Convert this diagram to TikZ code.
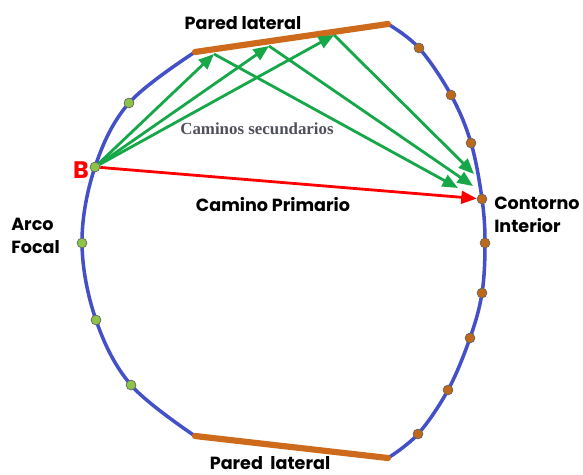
\documentclass[tikz,border=0pt]{standalone}
\usepackage{fontspec}
\setmainfont{Poppins}
\newfontfamily\serifb{Liberation Serif}
\usetikzlibrary{arrows.meta,positioning}

\definecolor{arcblue}{RGB}{68,80,200}
\definecolor{wallorange}{RGB}{206,106,28}
\definecolor{pathgreen}{RGB}{22,168,72}
\definecolor{dotgreen}{RGB}{140,196,72}
\definecolor{dotorange}{RGB}{190,104,26}
\definecolor{labelgray}{RGB}{80,80,92}

\begin{document}
\begin{tikzpicture}[x=0.025cm, y=-0.025cm]
  \tikzstyle{focaldot}=[circle, draw=black!60, fill=dotgreen, line width=0.5pt, minimum size=7pt, inner sep=0pt]
  \tikzstyle{innerdot}=[circle, draw=black!60, fill=dotorange, line width=0.5pt, minimum size=7pt, inner sep=0pt]
  \tikzstyle{contour}=[draw=arcblue, line width=2.5pt]
  \tikzstyle{wall}=[draw=wallorange, line width=4.4pt, line cap=round]
  \tikzstyle{secondary}=[draw=pathgreen, line width=2pt, -{Triangle[length=11pt,width=9pt]}]
  \tikzstyle{primary}=[draw=red, line width=2pt, -{Triangle[length=11pt,width=9pt]}]
  \tikzstyle{tag}=[font=\bfseries\fontsize{12.5}{16}\selectfont, align=left, inner sep=0pt]

  \useasboundingbox (0,0) rectangle (583,474);

  % Contorno: arco focal (izquierda) y contorno interior (derecha)
  \draw[contour] plot[smooth, tension=0.6] coordinates {(195,52) (129,103) (95,167) (82,243) (96,320) (131,385) (195,436)};
  \draw[contour] plot[smooth, tension=0.6] coordinates {(388,24) (419,48) (451,95) (471,143) (482,199) (485,243) (482,293) (470,338) (448,390) (418,434) (388,458)};

  % Paredes laterales
  \coordinate (wt1) at (195,52);
  \coordinate (wt2) at (388,24);
  \coordinate (wb1) at (195,436);
  \coordinate (wb2) at (388,458);
  \draw[wall] (wt1) -- (wt2);
  \draw[wall] (wb1) -- (wb2);

  % Puntos del arco focal
  \node[focaldot] (f1) at (129,103) {};
  \node[focaldot] (B) at (95,167) {};
  \node[focaldot] (f3) at (82,243) {};
  \node[focaldot] (f4) at (96,320) {};
  \node[focaldot] (f5) at (131,385) {};

  % Puntos del contorno interior
  \node[innerdot] (c1) at (419,48) {};
  \node[innerdot] (c2) at (451,95) {};
  \node[innerdot] (c3) at (471,143) {};
  \node[innerdot] (c4) at (482,199) {};
  \node[innerdot] (c5) at (485,243) {};
  \node[innerdot] (c6) at (482,293) {};
  \node[innerdot] (c7) at (470,338) {};
  \node[innerdot] (c8) at (448,390) {};
  \node[innerdot] (c9) at (418,434) {};

  % Reflexiones en la pared
  \coordinate (r1) at (214,54);
  \coordinate (r2) at (269,46);
  \coordinate (r3) at (334,35);
  \coordinate (e1) at (458,188);
  \coordinate (e2) at (473,186);
  \coordinate (e3) at (474,174);

  % Caminos
  \draw[secondary] (B) -- (r1);
  \draw[secondary] (B) -- (r2);
  \draw[secondary] (B) -- (r3);
  \draw[secondary] (r1) -- (e1);
  \draw[secondary] (r2) -- (e2);
  \draw[secondary] (r3) -- (e3);
  \draw[primary] (B) -- (c4);

  % Etiquetas
  \node[tag] (ptop) at (243,23) {Pared lateral};
  \node[tag] (pbot) at (270,463) {Pared\ \ lateral};
  \node[tag] (prim) at (273,205) {Camino Primario};
  \node[tag, anchor=west] (cint) at (494,215) {Contorno\\Interior};
  \node[tag, anchor=west] (afoc) at (11,236) {Arco\\Focal};
  \node[font=\bfseries\fontsize{17}{17}\selectfont, text=red, inner sep=0pt] (bl) at (81,170) {B};
  \node[font=\serifb\bfseries\fontsize{12}{12}\selectfont, text=labelgray, inner sep=0pt] (sec) at (257,129) {Caminos secundarios};
\end{tikzpicture}
\end{document}
